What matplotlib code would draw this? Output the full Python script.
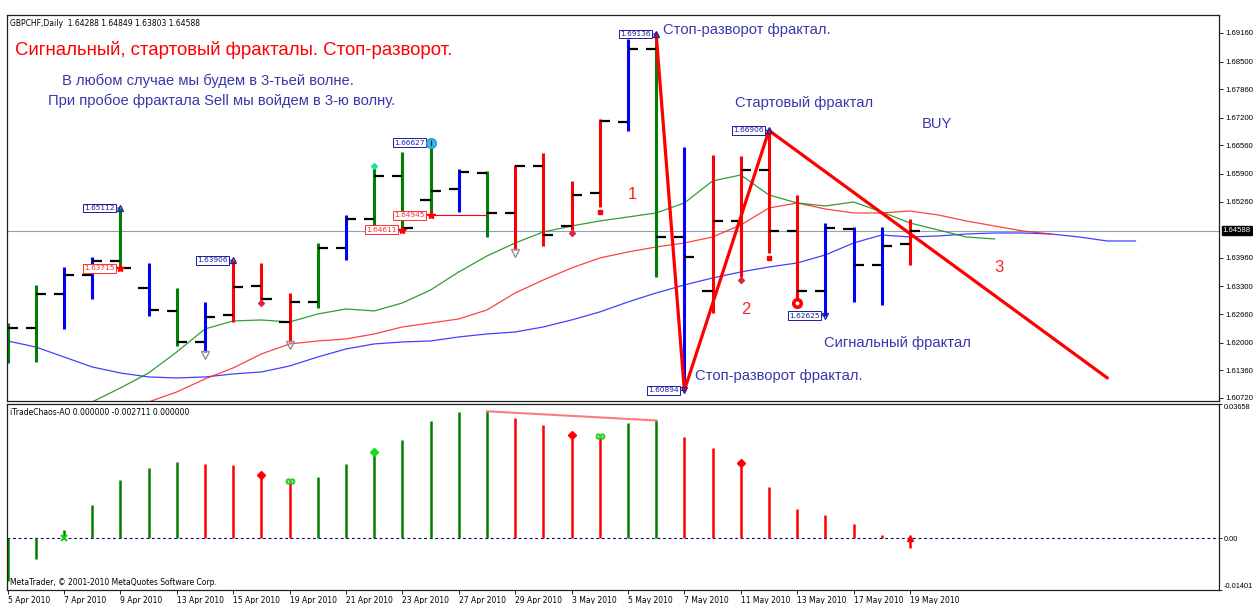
import matplotlib
matplotlib.use('agg')
import matplotlib.pyplot as plt
import matplotlib.transforms as mtransforms
import numpy as np

plt.rcParams['font.family'] = ['DejaVu Sans']

# ---------------- data ----------------
dates = ['5 Apr', '6 Apr', '7 Apr', '8 Apr', '9 Apr', '12 Apr', '13 Apr', '14 Apr',
         '15 Apr', '16 Apr', '19 Apr', '20 Apr', '21 Apr', '22 Apr', '23 Apr', '26 Apr',
         '27 Apr', '28 Apr', '29 Apr', '30 Apr', '3 May', '4 May', '5 May', '6 May',
         '7 May', '10 May', '11 May', '12 May', '13 May', '14 May', '17 May', '18 May',
         '19 May']

opens = [1.62061, 1.62339, 1.63125, 1.63564, 1.63888, 1.63264, 1.62732, 1.62015,
         1.62639, 1.63310, 1.62477, 1.62940, 1.64189, 1.64859, 1.65853, 1.65298,
         1.65553, 1.65923, 1.64998, 1.66085, 1.64697, 1.65460, 1.67102, 1.68790,
         1.64443, 1.63194, 1.64813, 1.65992, 1.64582, 1.63194, 1.64628, 1.63795,
         1.64288]
highs = [1.62454, 1.63333, 1.63749, 1.63980, 1.65112, 1.63842, 1.63264, 1.62940,
         1.63906, 1.63842, 1.63148, 1.64304, 1.64952, 1.66085, 1.66408, 1.66627,
         1.66015, 1.65960, 1.66108, 1.66385, 1.65738, 1.67171, 1.69021, 1.69136,
         1.66524, 1.66339, 1.66316, 1.66906, 1.65414, 1.64767, 1.64674, 1.64674,
         1.64849]
lows = [1.61529, 1.61553, 1.62316, 1.63009, 1.63715, 1.62616, 1.61923, 1.61784,
        1.62477, 1.62986, 1.62015, 1.62801, 1.63911, 1.64674, 1.64611, 1.64945,
        1.65021, 1.64443, 1.64142, 1.64235, 1.64605, 1.65137, 1.66894, 1.63518,
        1.60894, 1.62686, 1.63518, 1.64073, 1.62986, 1.62625, 1.62940, 1.62871,
        1.63803]
closes = [1.62339, 1.63125, 1.63564, 1.63888, 1.63726, 1.62755, 1.62015, 1.62593,
          1.63287, 1.63009, 1.62940, 1.64189, 1.64859, 1.65853, 1.64640, 1.65507,
          1.65946, 1.64998, 1.66085, 1.64489, 1.65414, 1.67125, 1.68790, 1.64443,
          1.63980, 1.64813, 1.65992, 1.64582, 1.63194, 1.64651, 1.63795, 1.64235,
          1.64588]
bar_kind = ['g', 'g', 'b', 'b', 'g', 'b', 'g', 'b', 'r', 'r', 'r', 'g', 'b', 'g', 'g', 'g',
            'b', 'g', 'r', 'r', 'r', 'r', 'b', 'g', 'b', 'r', 'r', 'r', 'r', 'b', 'b', 'b', 'r']

# Alligator lines, shifted forward past the last bar
jaw = [1.62038, 1.61899, 1.61668, 1.61437, 1.61298, 1.61206, 1.61183, 1.61206,
       1.61275, 1.61321, 1.61460, 1.61668, 1.61853, 1.61969, 1.62015, 1.62038,
       1.62131, 1.62200, 1.62246, 1.62362, 1.62524, 1.62709, 1.62940, 1.63148,
       1.63333, 1.63495, 1.63634, 1.63749, 1.63842, 1.64027, 1.64304, 1.64489,
       1.64443, 1.64466, 1.64512, 1.64535, 1.64535, 1.64512, 1.64443, 1.64350,
       1.64350]
jaw_start = 0
teeth = [1.60628, 1.60859, 1.61159, 1.61414, 1.61738, 1.61969, 1.62038, 1.62084,
         1.62200, 1.62362, 1.62454, 1.62547, 1.62755, 1.63148, 1.63449, 1.63726,
         1.63957, 1.64096, 1.64212, 1.64304, 1.64443, 1.64720, 1.65113, 1.65229,
         1.65090, 1.64998, 1.64998, 1.65044, 1.64952, 1.64813, 1.64697, 1.64582,
         1.64512]
teeth_start = 5
lips = [1.60628, 1.60951, 1.61298, 1.61784, 1.62316, 1.62501, 1.62524, 1.62477,
        1.62662, 1.62778, 1.62732, 1.62917, 1.63217, 1.63634, 1.64004, 1.64304,
        1.64559, 1.64697, 1.64813, 1.64905, 1.64998, 1.65229, 1.65738, 1.65877,
        1.65414, 1.65229, 1.65160, 1.65252, 1.65021, 1.64767, 1.64605, 1.64443,
        1.64397]
lips_start = 3

# Awesome oscillator
ao = [-0.0115, -0.0055, 0.0023, 0.0090, 0.0159, 0.0193, 0.0207, 0.0203, 0.0200,
      0.0172, 0.0156, 0.0168, 0.0203, 0.0236, 0.0268, 0.0319, 0.0344, 0.0346,
      0.0328, 0.0310, 0.0282, 0.0280, 0.0315, 0.0321, 0.0276, 0.0246, 0.0204,
      0.0140, 0.0079, 0.0064, 0.0039, 0.0009, -0.002711]
ao_kind = ['g', 'g', 'g', 'g', 'g', 'g', 'g', 'r', 'r', 'r', 'r', 'g', 'g', 'g', 'g', 'g',
           'g', 'g', 'r', 'r', 'r', 'r', 'g', 'g', 'r', 'r', 'r', 'r', 'r', 'r', 'r', 'r', 'r']

# fractals and signal marks (bar indices)
up_fractals = [4, 8, 15, 23, 27]
down_fractals = [24, 29]
star_bars = [4, 14, 15]
gray_arrows = [7, 10, 18]
red_diamonds = [9, 20, 26]
red_squares = [21, 27]
red_circle = [28]
green_top = [13]
blue_circle = [15]

# hand-drawn wave line
wave_idx = [23, 24, 27, 39]
wave_val = [1.69136, 1.60894, 1.66906, 1.61183]

ao_red_diamonds = [9, 20, 26]
ao_green_diamonds = [13]
ao_oo = [10, 21]

price_ticks = [1.69160, 1.68500, 1.67860, 1.67200, 1.66560, 1.65900, 1.65260,
               1.63960, 1.63300, 1.62660, 1.62000, 1.61360, 1.60720]
ao_ticks = [-0.01401, 0.0, 0.03658]
ao_tick_labels = ['-0.01401', '0.00', '0.03658']

# ---------------- style ----------------
COL = {'g': '#008000', 'b': '#0000ff', 'r': '#ff0000'}
TXT_BLUE = '#3838aa'
LBL_BLUE = '#1c1c9c'
ANN_FONT = ['Liberation Sans', 'DejaVu Sans']
AXIS_FONT = ['Liberation Sans', 'DejaVu Sans']

W, H = 1253, 604
fig = plt.figure(figsize=(W / 100, H / 100), dpi=100)
ax = fig.add_axes([7 / W, 1 - 401 / H, 1212 / W, 386 / H])
ax2 = fig.add_axes([7 / W, 1 - 590 / H, 1212 / W, 186 / H], sharex=ax)

x = np.arange(len(opens))
colors = [COL[k] for k in bar_kind]

# alligator
ax.plot(np.arange(len(jaw)) + jaw_start, jaw, color='#2020ff', lw=0.9, alpha=0.85, zorder=1)
ax.plot(np.arange(len(teeth)) + teeth_start, teeth, color='#ff2020', lw=0.9, alpha=0.85, zorder=1)
ax.plot(np.arange(len(lips)) + lips_start, lips, color='#108a10', lw=0.9, alpha=0.85, zorder=1)

# current price line
ax.axhline(closes[-1], color='#8ea2b6', lw=0.8, zorder=0.5)

# OHLC bars
ax.vlines(x, lows, highs, colors=colors, lw=2.2, zorder=2)
ax.hlines(opens, x - 0.36, x, colors='black', lw=1.6, zorder=2)
ax.hlines(closes, x, x + 0.36, colors='black', lw=1.6, zorder=2)

# wave line
ax.plot(wave_idx, wave_val, color='#ff0000', lw=2.3, zorder=4, solid_capstyle='round')

down5 = mtransforms.offset_copy(ax.transData, fig=fig, y=-5, units='dots')
down3 = mtransforms.offset_copy(ax.transData, fig=fig, y=-3, units='dots')


def price_label(i, val, color):
    ax.annotate(f'{val:.5f}', xy=(i, val), xytext=(-4, 0), textcoords='offset points',
                ha='right', va='center', fontsize=5.3, color=color, zorder=6,
                bbox=dict(boxstyle='square,pad=0.18', fc='white', ec=color, lw=0.7),
                arrowprops=dict(arrowstyle='-', color=color, lw=0.7,
                                shrinkA=0, shrinkB=0))


for i in up_fractals:
    price_label(i, highs[i], LBL_BLUE)
    ax.plot(i, highs[i], marker='^', ms=5, mfc='none', mec=LBL_BLUE, mew=0.9, zorder=6)
for i in down_fractals:
    price_label(i, lows[i], LBL_BLUE)
    ax.plot(i, lows[i], marker='v', ms=5, mfc='none', mec=LBL_BLUE, mew=0.9, zorder=6)
for i in star_bars:
    price_label(i, lows[i], '#ff3030')
    ax.plot(i, lows[i], marker='*', ms=6, color='#ff0000', zorder=6)
ax.hlines(lows[star_bars[-1]], star_bars[-1], 17, color='#ff0000', lw=0.8, zorder=3)

for i in gray_arrows:
    ax.plot(i, lows[i], marker='v', ms=6, mfc='none', mec='#909090', mew=1.0,
            transform=down3, zorder=5)
for i in red_diamonds:
    ax.plot(i, lows[i], marker='D', ms=3, color='#e0204a', transform=down3, zorder=5)
for i in red_squares:
    ax.plot(i, lows[i], marker='s', ms=3.5, color='#ff0000', transform=down5, zorder=5)
for i in red_circle:
    ax.plot(i, lows[i], marker='o', ms=7, color='#ff0000', transform=down3, zorder=5)
    ax.plot(i, lows[i], marker='o', ms=1.8, color='white', transform=down3, zorder=6)
for i in green_top:
    ax.plot(i, highs[i], marker='D', ms=3, color='#20e0a0', zorder=5)
for i in blue_circle:
    ax.plot(i, highs[i], marker='o', ms=7, mfc='#45b8f0', mec='#2a95d5', zorder=7)
    ax.plot(i, highs[i], marker='|', ms=4, color='#103060', zorder=8)

# annotations
ax.text(0.0025, 0.979, 'GBPCHF,Daily  1.64288 1.64849 1.63803 1.64588',
        transform=ax.transAxes, fontsize=5.5, va='center', ha='left')
ax.text(0.0066, 0.909, 'Сигнальный, стартовый фракталы. Стоп-разворот.',
        transform=ax.transAxes, fontsize=13.4, color='#ff0000', va='center',
        family=ANN_FONT)
ax.text(0.0454, 0.829, 'В любом случае мы будем в 3-тьей волне.',
        transform=ax.transAxes, fontsize=10.6, color=TXT_BLUE, va='center', family=ANN_FONT)
ax.text(0.0338, 0.777, 'При пробое фрактала Sell мы войдем в 3-ю волну.',
        transform=ax.transAxes, fontsize=10.6, color=TXT_BLUE, va='center', family=ANN_FONT)
ax.text(0.541, 0.961, 'Стоп-разворот фрактал.', transform=ax.transAxes,
        fontsize=10.6, color=TXT_BLUE, va='center', family=ANN_FONT)
ax.text(0.6007, 0.772, 'Стартовый фрактал', transform=ax.transAxes,
        fontsize=10.6, color=TXT_BLUE, va='center', family=ANN_FONT)
ax.text(0.755, 0.718, 'BUY', transform=ax.transAxes,
        fontsize=10.6, color=TXT_BLUE, va='center', family=ANN_FONT)
ax.text(0.674, 0.150, 'Сигнальный фрактал', transform=ax.transAxes,
        fontsize=10.6, color=TXT_BLUE, va='center', family=ANN_FONT)
ax.text(0.5677, 0.0648, 'Стоп-разворот фрактал.', transform=ax.transAxes,
        fontsize=10.6, color=TXT_BLUE, va='center', family=ANN_FONT)
for s, px, py in [('1', 0.5124, 0.534), ('2', 0.6056, 0.236), ('3', 0.8144, 0.347)]:
    ax.text(px, py, s, transform=ax.transAxes, fontsize=12, color='#ff2020',
            va='center', family=ANN_FONT)

# price axis
ax.set_xlim(-0.02, 42.96)
ax.set_ylim(1.6065, 1.69576)
ax.yaxis.tick_right()
ax.set_yticks(price_ticks)
ax.set_yticklabels([f'{v:.5f}' for v in price_ticks], family=AXIS_FONT)
ax.tick_params(axis='y', length=3, width=0.6, pad=1.5, labelsize=5.6)
ax.tick_params(axis='x', bottom=False, labelbottom=False)
ax.annotate(f'{closes[-1]:.5f}', xy=(1, closes[-1]), xycoords=('axes fraction', 'data'),
            xytext=(2.5, 0), textcoords='offset points', ha='left', va='center',
            fontsize=5.6, color='white', annotation_clip=False, family=AXIS_FONT,
            bbox=dict(boxstyle='square,pad=0.12', fc='black', ec='black'))

# AO panel
ax_colors = [COL[k] for k in ao_kind]
ax2.vlines(x, 0, ao, colors=ax_colors, lw=1.8, zorder=2)
ax2.axhline(0, color='#00007a', lw=0.8, ls=(0, (2.5, 2.5)), zorder=1)
ax2.plot([17, 23], [ao[17], ao[23]], color='#ff7a7a', lw=1.5, zorder=3)
ax2.plot(2, 0, marker='x', ms=4, mew=1.5, color='#10d010', zorder=4)
for i in ao_red_diamonds:
    ax2.plot(i, ao[i], marker='D', ms=4, color='#ff0000', zorder=4)
for i in ao_green_diamonds:
    ax2.plot(i, ao[i], marker='D', ms=4, color='#10e010', zorder=4)
for i in ao_oo:
    ax2.plot(i, ao[i], marker=r'$\infty$', ms=6, color='#30d030', zorder=4)
ax2.plot(32, 0, marker='^', ms=4, color='#ff0000', zorder=4)

ax2.text(0.0025, 0.952, 'iTradeChaos-AO 0.000000 -0.002711 0.000000',
         transform=ax2.transAxes, fontsize=5.5, va='center', ha='left')
ax2.text(0.0025, 0.038, 'MetaTrader, © 2001-2010 MetaQuotes Software Corp.',
         transform=ax2.transAxes, fontsize=5.5, va='center', ha='left')

ax2.set_ylim(-0.01401, 0.03658)
ax2.yaxis.tick_right()
ax2.set_yticks(ao_ticks)
ax2.set_yticklabels(ao_tick_labels, family=AXIS_FONT)
ax2.tick_params(axis='y', length=2.5, width=0.6, pad=1, labelsize=5.3)
labels = ax2.get_yticklabels()
labels[0].set_va('bottom')
labels[-1].set_va('top')

tick_idx = list(range(0, len(dates), 2))
ax2.set_xticks(tick_idx)
ax2.set_xticklabels([dates[i] + ' 2010' for i in tick_idx])
ax2.tick_params(axis='x', length=3, width=0.6, pad=1, labelsize=5.5)
for t in ax2.get_xticklabels():
    t.set_ha('left')

for a in (ax, ax2):
    for sp in a.spines.values():
        sp.set_color('#202020')
        sp.set_linewidth(0.9)

fig.savefig('out.png', dpi=100)
